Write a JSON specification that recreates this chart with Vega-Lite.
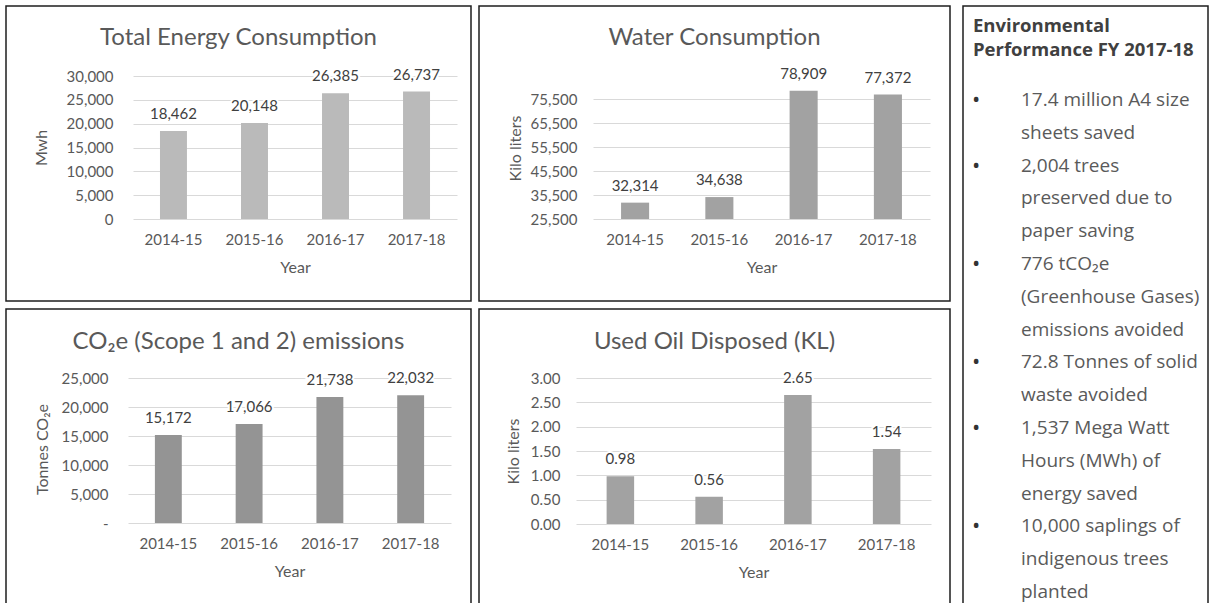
{
  "$schema": "https://vega.github.io/schema/vega-lite/v6.json",
  "padding": {"left": 5, "top": 5, "right": 0, "bottom": 0},
  "background": "white",
  "spacing": 11,
  "hconcat": [
    {
      "spacing": 6,
      "vconcat": [
        {
          "spacing": 6,
          "hconcat": [
            {
              "width": 465, "height": 295,
              "title": {"text": "Total Energy Consumption", "offset": -44},
              "data": {"values": [
                {"year": "2014-15", "v": 18462},
                {"year": "2015-16", "v": 20148},
                {"year": "2016-17", "v": 26385},
                {"year": "2017-18", "v": 26737}
              ]},
              "encoding": {
                "x": {"field": "year", "type": "ordinal", "sort": null,
                  "scale": {"range": [127, 451], "paddingInner": 0.667, "paddingOuter": 0.333},
                  "axis": {"title": "Year", "offset": -82, "labelPadding": 13, "titleY": 48, "titleBaseline": "middle", "labelAngle": 0, "grid": false}},
                "y": {"field": "v", "type": "quantitative",
                  "scale": {"domain": [0, 30000], "range": [213, 70], "nice": false, "zero": false},
                  "axis": {"title": "Mwh", "offset": -111, "values": [0, 5000, 10000, 15000, 20000, 25000, 30000], "format": ",.0f", "titleX": -76, "titleBaseline": "middle", "grid": true}}
              },
              "layer": [
                {"mark": {"type": "bar", "color": "#BABABA"}, "encoding": {"y2": {"datum": 0}}},
                {"mark": {"type": "text", "dy": -12, "baseline": "alphabetic", "stroke": "white", "strokeWidth": 4, "fill": "white"}, "encoding": {"text": {"field": "v", "format": ","}}},
                {"mark": {"type": "text", "dy": -12, "baseline": "alphabetic", "color": "#404040"}, "encoding": {"text": {"field": "v", "format": ","}}}
              ]
            },
            {
              "width": 471, "height": 295,
              "title": {"text": "Water Consumption", "offset": -44},
              "data": {"values": [
                {"year": "2014-15", "v": 32314},
                {"year": "2015-16", "v": 34638},
                {"year": "2016-17", "v": 78909},
                {"year": "2017-18", "v": 77372}
              ]},
              "encoding": {
                "x": {"field": "year", "type": "ordinal", "sort": null,
                  "scale": {"range": [114, 451], "paddingInner": 0.667, "paddingOuter": 0.333},
                  "axis": {"title": "Year", "offset": -82, "labelPadding": 13, "titleY": 48, "titleBaseline": "middle", "labelAngle": 0, "grid": false}},
                "y": {"field": "v", "type": "quantitative",
                  "scale": {"domain": [25500, 75500], "range": [213, 93], "nice": false, "zero": false},
                  "axis": {"title": "Kilo liters", "offset": -102, "values": [25500, 35500, 45500, 55500, 65500, 75500], "format": ",.0f", "titleX": -66, "titleY": 142, "titleBaseline": "middle", "grid": true}}
              },
              "layer": [
                {"mark": {"type": "bar", "color": "#A2A2A2"}, "encoding": {"y2": {"datum": 25500}}},
                {"mark": {"type": "text", "dy": -12, "baseline": "alphabetic", "stroke": "white", "strokeWidth": 4, "fill": "white"}, "encoding": {"text": {"field": "v", "format": ","}}},
                {"mark": {"type": "text", "dy": -12, "baseline": "alphabetic", "color": "#404040"}, "encoding": {"text": {"field": "v", "format": ","}}}
              ]
            }
          ]
        },
        {
          "spacing": 6,
          "hconcat": [
            {
              "width": 465, "height": 300,
              "title": {"text": "CO₂e (Scope 1 and 2) emissions", "offset": -45},
              "data": {"values": [
                {"year": "2014-15", "v": 15172},
                {"year": "2015-16", "v": 17066},
                {"year": "2016-17", "v": 21738},
                {"year": "2017-18", "v": 22032}
              ]},
              "encoding": {
                "x": {"field": "year", "type": "ordinal", "sort": null,
                  "scale": {"range": [122, 445], "paddingInner": 0.667, "paddingOuter": 0.333},
                  "axis": {"title": "Year", "offset": -86, "labelPadding": 13, "titleY": 48, "titleBaseline": "middle", "labelAngle": 0, "grid": false}},
                "y": {"field": "v", "type": "quantitative",
                  "scale": {"domain": [0, 25000], "range": [214, 69], "nice": false, "zero": false},
                  "axis": {"title": "Tonnes CO₂e", "offset": -106, "values": [0, 5000, 10000, 15000, 20000, 25000], "labelExpr": "datum.value === 0 ? '-\u00a0\u00a0' : format(datum.value, ',.0f')", "titleX": -70, "titleY": 140, "titleBaseline": "middle", "grid": true}}
              },
              "layer": [
                {"mark": {"type": "bar", "color": "#949494"}, "encoding": {"y2": {"datum": 0}}},
                {"mark": {"type": "text", "dy": -12, "baseline": "alphabetic", "stroke": "white", "strokeWidth": 4, "fill": "white"}, "encoding": {"text": {"field": "v", "format": ","}}},
                {"mark": {"type": "text", "dy": -12, "baseline": "alphabetic", "color": "#404040"}, "encoding": {"text": {"field": "v", "format": ","}}}
              ]
            },
            {
              "width": 471, "height": 300,
              "title": {"text": "Used Oil Disposed (KL)", "offset": -45},
              "data": {"values": [
                {"year": "2014-15", "v": 0.98},
                {"year": "2015-16", "v": 0.56},
                {"year": "2016-17", "v": 2.65},
                {"year": "2017-18", "v": 1.54}
              ]},
              "encoding": {
                "x": {"field": "year", "type": "ordinal", "sort": null,
                  "scale": {"range": [97, 452], "paddingInner": 0.69, "paddingOuter": 0.345},
                  "axis": {"title": "Year", "offset": -85, "labelPadding": 13, "titleY": 48, "titleBaseline": "middle", "labelAngle": 0, "grid": false}},
                "y": {"field": "v", "type": "quantitative",
                  "scale": {"domain": [0, 3], "range": [215, 69], "nice": false, "zero": false},
                  "axis": {"title": "Kilo liters", "offset": -85, "values": [0, 0.5, 1, 1.5, 2, 2.5, 3], "format": ".2f", "titleX": -51, "titleY": 142, "titleBaseline": "middle", "grid": true}}
              },
              "layer": [
                {"mark": {"type": "bar", "color": "#A2A2A2"}, "encoding": {"y2": {"datum": 0}}},
                {"mark": {"type": "text", "dy": -12, "baseline": "alphabetic", "stroke": "white", "strokeWidth": 4, "fill": "white"}, "encoding": {"text": {"field": "v", "format": ".2f"}}},
                {"mark": {"type": "text", "dy": -12, "baseline": "alphabetic", "color": "#404040"}, "encoding": {"text": {"field": "v", "format": ".2f"}}}
              ]
            }
          ]
        }
      ]
    },
    {
      "width": 245, "height": 610,
      "title": {"text": ["Environmental", "Performance FY 2017-18"], "anchor": "start", "dx": 10, "offset": -53, "font": "Open Sans", "fontSize": 18.5, "fontWeight": "bold", "color": "#404040", "lineHeight": 24},
      "data": {"values": [
        {"line": 0, "col": "bullet", "t": "•"},
        {"line": 0, "col": "text", "t": "17.4 million A4 size"},
        {"line": 1, "col": "text", "t": "sheets saved"},
        {"line": 2, "col": "bullet", "t": "•"},
        {"line": 2, "col": "text", "t": "2,004 trees"},
        {"line": 3, "col": "text", "t": "preserved due to"},
        {"line": 4, "col": "text", "t": "paper saving"},
        {"line": 5, "col": "bullet", "t": "•"},
        {"line": 5, "col": "text", "t": "776 tCO₂e"},
        {"line": 6, "col": "text", "t": "(Greenhouse Gases)"},
        {"line": 7, "col": "text", "t": "emissions avoided"},
        {"line": 8, "col": "bullet", "t": "•"},
        {"line": 8, "col": "text", "t": "72.8 Tonnes of solid"},
        {"line": 9, "col": "text", "t": "waste avoided"},
        {"line": 10, "col": "bullet", "t": "•"},
        {"line": 10, "col": "text", "t": "1,537 Mega Watt"},
        {"line": 11, "col": "text", "t": "Hours (MWh) of"},
        {"line": 12, "col": "text", "t": "energy saved"},
        {"line": 13, "col": "bullet", "t": "•"},
        {"line": 13, "col": "text", "t": "10,000 saplings of"},
        {"line": 14, "col": "text", "t": "indigenous trees"},
        {"line": 15, "col": "text", "t": "planted"}
      ]},
      "mark": {"type": "text", "align": "left", "baseline": "middle", "font": "Open Sans"},
      "encoding": {
        "x": {"field": "col", "type": "nominal", "scale": {"type": "point", "padding": 0, "domain": ["bullet", "text"], "range": [9, 58]}, "axis": null},
        "y": {"field": "line", "type": "quantitative", "scale": {"domain": [0, 15], "range": [94, 586], "nice": false, "zero": false}, "axis": null},
        "size": {"field": "col", "type": "nominal", "scale": {"domain": ["bullet", "text"], "range": [22, 19]}, "legend": null},
        "color": {"field": "col", "type": "nominal", "scale": {"domain": ["bullet", "text"], "range": ["#333333", "#5a5a5a"]}, "legend": null},
        "text": {"field": "t"}
      }
    }
  ],
  "config": {
    "view": {"stroke": "#1e1e1e", "strokeWidth": 1.5},
    "font": "Lato",
    "title": {"font": "Lato", "fontSize": 24, "fontWeight": "normal", "color": "#595959", "anchor": "middle", "frame": "group"},
    "axis": {"labelFont": "Lato", "labelFontSize": 15, "labelColor": "#595959", "titleFont": "Lato", "titleFontSize": 16, "titleFontWeight": "normal", "titleColor": "#595959", "ticks": false, "domain": false, "gridColor": "#d9d9d9", "gridWidth": 1, "labelPadding": 4},
    "text": {"font": "Lato", "fontSize": 15}
  }
}
